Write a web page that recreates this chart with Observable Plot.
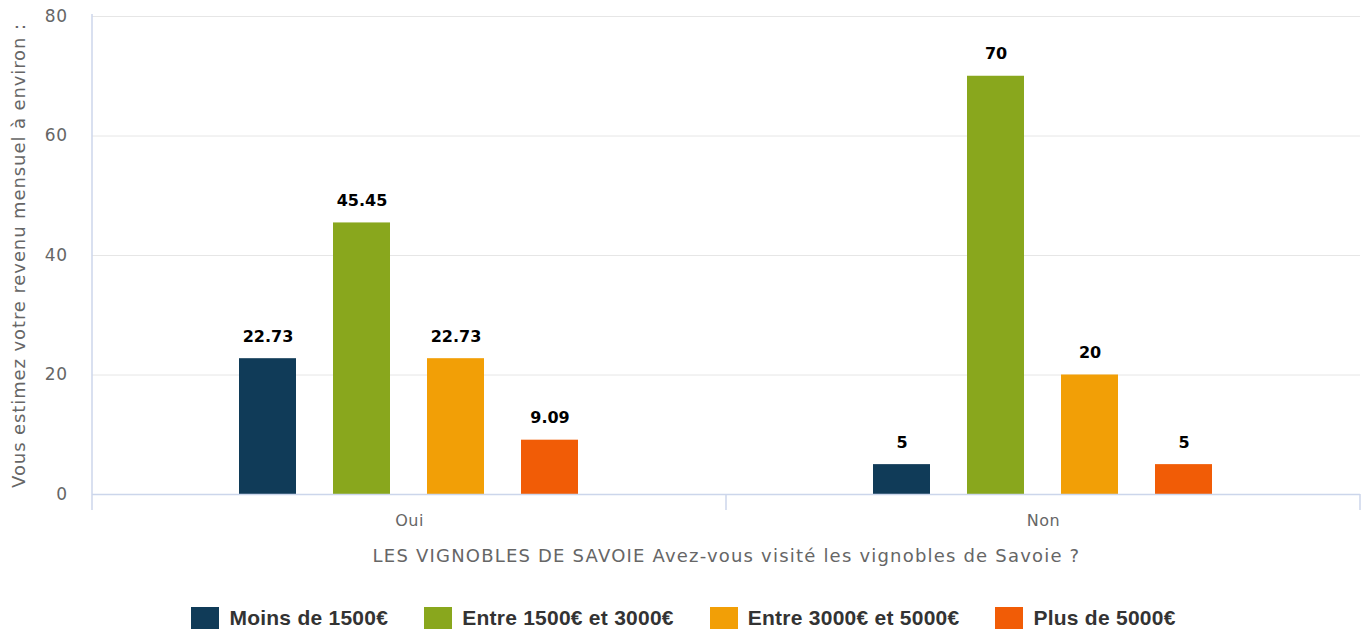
<!DOCTYPE html>
<html>
<head>
<meta charset="utf-8">
<script src="https://cdn.jsdelivr.net/npm/d3@7"></script>
<script src="https://cdn.jsdelivr.net/npm/@observablehq/plot@0.6"></script>
<style>
  html, body { margin: 0; padding: 0; background: #fff; }
  body { width: 1367px; height: 635px; overflow: hidden; font-family: "Liberation Sans", Arial, sans-serif; }
  #legend { display: flex; justify-content: center; align-items: center; margin-top: 21px; }
  .item { display: flex; align-items: center; margin: 0 18px; }
  .sw { width: 28px; height: 22px; margin-right: 10px; }
  .lab { font-weight: bold; font-size: 21px; color: #333; letter-spacing: 0.25px; }
  svg text { letter-spacing: 0.5px; }
</style>
</head>
<body>
<div id="chart"></div>
<div id="legend"></div>
<script>
const categories = ["Oui", "Non"];
const series = ["Moins de 1500€", "Entre 1500€ et 3000€", "Entre 3000€ et 5000€", "Plus de 5000€"];
const valuesOui = [22.73, 45.45, 22.73, 9.09];
const valuesNon = [5, 70, 20, 5];
const colors = ["#103b58", "#89a71d", "#f29f06", "#f15c06"];
const yTicks = [0, 20, 40, 60, 80];
const xTitle = "LES VIGNOBLES DE SAVOIE Avez-vous visité les vignobles de Savoie ?";
const yTitle = "Vous estimez votre revenu mensuel à environ :";

const valuesByCat = {Oui: valuesOui, Non: valuesNon};
const data = categories.flatMap(c => series.map((s, i) => ({cat: c, series: s, value: valuesByCat[c][i]})));

const chart = Plot.plot({
  width: 1367,
  height: 585,
  marginLeft: 91,
  marginRight: 7,
  marginTop: 16,
  marginBottom: 91,
  style: {fontFamily: "'DejaVu Sans', Verdana, sans-serif", fontSize: "16px", color: "#666", background: "#fff"},
  fx: {domain: categories, padding: 0},
  x: {domain: series, paddingInner: 0.39, paddingOuter: 1.54, axis: null},
  y: {domain: [0, 80]},
  color: {domain: series, range: colors},
  marks: [
    Plot.gridY(yTicks, {stroke: "#e6e6e6", strokeOpacity: 1}),
    Plot.barY(data, {fx: "cat", x: "series", y: "value", fill: "series"}),
    Plot.text(data, {fx: "cat", x: "series", y: "value", text: d => String(d.value), dy: -22,
      fontWeight: "bold", fill: "#000", fontSize: 16, className: "vlab"}),
    Plot.ruleY([0], {stroke: "#ccd6eb", strokeWidth: 1.5}),
    Plot.axisY({ticks: yTicks, tickSize: 0, tickPadding: 25, fill: "#666", fontSize: 17,
      label: yTitle, labelAnchor: "center", labelArrow: "none", labelOffset: 80}),
    Plot.axisFx({anchor: "bottom", tickSize: 0, tickPadding: 20, fill: "#666", fontSize: 16,
      label: xTitle, labelAnchor: "center", labelArrow: "none", labelOffset: 67})
  ]
});

document.getElementById("chart").appendChild(chart);

const svg = d3.select(chart);
// title texts: slightly larger and wider, as in the reference
svg.selectAll("text").filter(function() { return this.textContent === xTitle; })
  .style("font-size", "18px").style("letter-spacing", "1.2px");
svg.selectAll("text").filter(function() { return this.textContent === yTitle; })
  .style("font-size", "18px").style("letter-spacing", "0.9px");
svg.selectAll(".vlab text").style("letter-spacing", "0px");

// axis line and category boundary ticks, positioned via the chart's scales
const fxS = chart.scale("fx");
const yS = chart.scale("y");
const y0 = yS.apply(0);
const yTop = yS.apply(80);
const bounds = categories.map(c => fxS.apply(c)).concat([fxS.apply(categories[categories.length - 1]) + fxS.bandwidth]);
const g = svg.append("g").attr("stroke", "#ccd6eb").attr("stroke-width", 1.5);
g.append("line").attr("x1", bounds[0]).attr("x2", bounds[0]).attr("y1", yTop - 2).attr("y2", y0 + 16);
bounds.slice(1).forEach(b => g.append("line").attr("x1", b).attr("x2", b).attr("y1", y0).attr("y2", y0 + 16));

const legend = d3.select("#legend");
series.forEach((s, i) => {
  const it = legend.append("div").attr("class", "item");
  it.append("div").attr("class", "sw").style("background", colors[i]);
  it.append("div").attr("class", "lab").text(s);
});
</script>
</body>
</html>
